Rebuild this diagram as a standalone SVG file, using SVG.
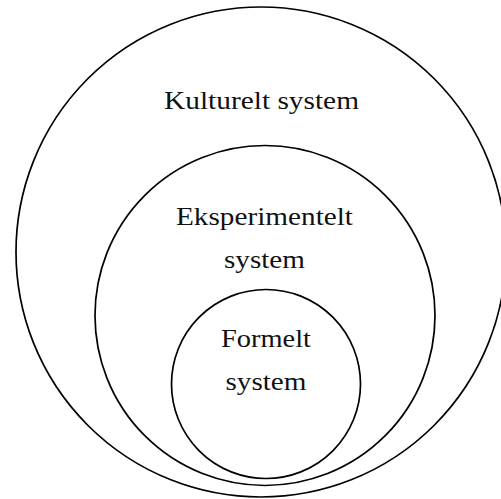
<svg xmlns="http://www.w3.org/2000/svg" width="501" height="499" viewBox="0 0 501 499">
  <style>
    .ring { fill: none; stroke: #000; stroke-width: 1.7; }
    .label { font-family: "Liberation Serif", "DejaVu Serif", serif; font-size: 26px; fill: #111; text-anchor: middle; }
  </style>
  <rect width="501" height="499" fill="#fff"/>
  <g id="kulturelt">
    <circle class="ring" cx="261" cy="252" r="245"/>
    <text class="label" x="261.5" y="109" textLength="195" lengthAdjust="spacingAndGlyphs">Kulturelt system</text>
  </g>
  <g id="eksperimentelt">
    <circle class="ring" cx="265" cy="315.5" r="170"/>
    <text class="label" x="264.5" y="225" textLength="177" lengthAdjust="spacingAndGlyphs">Eksperimentelt</text>
    <text class="label" x="264.5" y="268" textLength="81" lengthAdjust="spacingAndGlyphs">system</text>
  </g>
  <g id="formelt">
    <circle class="ring" cx="266" cy="384" r="94.5"/>
    <text class="label" x="266" y="346.5" textLength="90" lengthAdjust="spacingAndGlyphs">Formelt</text>
    <text class="label" x="266" y="389.5" textLength="81" lengthAdjust="spacingAndGlyphs">system</text>
  </g>
  <g id="connectors"></g>
</svg>
